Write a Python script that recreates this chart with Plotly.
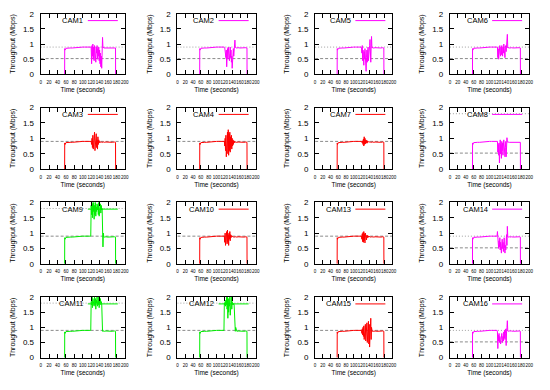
import plotly.graph_objects as go

# ---------------- data ----------------
# shared sampling times (seconds)
T_PRE = [57, 57.2, 58, 60, 63, 66, 70, 75, 80, 85, 90, 95, 100, 105, 110, 115, 119]
T_MID = [120, 121, 122, 123, 124, 125, 126, 127, 128, 129, 130, 131, 132, 133, 134, 135,
         136, 137, 138, 139, 140, 141, 142, 143, 144, 145, 146, 147, 148, 149, 150]
T_POST = [152, 155, 160, 165, 170, 175, 177.8, 178]

# steady throughput before / after the disturbance (Mbps)
PRE = [0, 0.85, 0.80, 0.86, 0.87, 0.86, 0.87, 0.87, 0.88, 0.88, 0.88, 0.89, 0.90, 0.90, 0.90, 0.91, 0.90]
POST = [0.87, 0.88, 0.87, 0.88, 0.87, 0.88, 0.87, 0]

# throughput during 120..150 s per camera (Mbps)
MID = {
    "CAM1": [0.90, 0.35, 0.95, 0.60, 1.00, 0.50, 0.90, 0.45, 0.95, 0.55, 0.85, 0.40, 0.90, 0.70, 0.95, 0.50,
             0.85, 0.60, 0.90, 0.45, 0.80, 0.35, 0.70, 0.25, 0.60, 0.20, 0.85, 1.22, 0.88, 0.90, 0.87],
    "CAM2": [0.90, 0.88, 0.70, 0.85, 0.55, 0.80, 0.25, 0.60, 0.85, 0.50, 0.90, 0.65, 0.85, 0.45, 0.70, 0.90,
             0.55, 0.80, 0.40, 0.60, 0.20, 0.75, 0.50, 0.85, 0.60, 0.90, 0.85, 1.13, 0.90, 0.88, 0.87],
    "CAM5": [0.88, 0.70, 0.95, 0.45, 0.80, 0.55, 0.30, 0.75, 0.50, 0.85, 0.35, 0.60, 0.10, 0.55, 0.80, 0.40,
             0.70, 0.90, 0.45, 0.85, 0.60, 0.95, 1.15, 0.60, 0.40, 0.90, 1.25, 0.88, 0.90, 0.87, 0.88],
    "CAM6": [0.90, 0.55, 0.85, 0.50, 0.90, 0.65, 0.95, 0.70, 0.60, 0.90, 0.65, 0.95, 0.75, 0.60, 0.90, 0.70,
             1.00, 0.65, 0.85, 0.55, 0.90, 0.95, 0.75, 1.00, 0.85, 1.32, 0.88, 0.90, 0.87, 0.88, 0.87],
    "CAM3": [0.90, 0.80, 1.00, 0.70, 1.10, 0.65, 1.00, 0.75, 1.20, 0.60, 1.05, 0.80, 1.15, 0.70, 0.95, 0.65,
             1.05, 0.80, 0.95, 0.85, 0.90, 0.88, 0.87, 0.88, 0.87, 0.88, 0.87, 0.88, 0.87, 0.88, 0.87],
    "CAM4": [0.90, 0.75, 1.00, 0.60, 1.10, 0.40, 0.95, 0.55, 1.20, 0.50, 1.28, 0.45, 1.15, 0.60, 1.20, 0.55,
             1.05, 0.70, 1.10, 0.65, 1.00, 0.75, 0.95, 0.80, 0.92, 0.85, 0.90, 0.87, 0.88, 0.87, 0.88],
    "CAM7": [0.90, 0.88, 0.85, 0.92, 0.80, 0.98, 0.75, 1.05, 0.80, 1.00, 0.82, 0.95, 0.85, 0.93, 0.84, 0.92,
             0.86, 0.90, 0.87, 0.90, 0.88, 0.87, 0.88, 0.87, 0.88, 0.87, 0.88, 0.87, 0.88, 0.87, 0.88],
    "CAM8": [0.90, 0.55, 0.80, 0.45, 0.85, 0.20, 0.70, 0.95, 0.50, 0.80, 0.35, 0.90, 0.60, 0.85, 0.45, 0.75,
             0.95, 0.55, 0.80, 0.40, 0.70, 0.90, 0.40, 0.75, 1.02, 0.88, 0.87, 0.88, 0.87, 0.88, 0.87],
    "CAM9": [1.90, 1.60, 2.00, 1.50, 1.95, 1.70, 2.00, 1.45, 1.90, 1.60, 2.00, 1.55, 1.85, 1.70, 1.95, 1.75,
             1.90, 1.60, 2.00, 1.55, 1.85, 1.70, 1.95, 1.65, 1.90, 1.75, 1.80, 1.10, 0.55, 1.00, 0.87],
    "CAM10": [0.90, 0.70, 1.00, 0.60, 0.95, 0.75, 1.05, 0.65, 1.10, 0.70, 0.95, 0.60, 1.00, 0.80, 1.05, 0.75,
              0.95, 0.85, 0.92, 0.88, 0.90, 0.87, 0.88, 0.87, 0.88, 0.87, 0.88, 0.87, 0.88, 0.87, 0.88],
    "CAM13": [0.90, 0.80, 0.98, 0.72, 1.02, 0.70, 1.05, 0.75, 0.98, 0.68, 1.00, 0.80, 0.95, 0.78, 0.93, 0.85,
              0.92, 0.86, 0.90, 0.87, 0.89, 0.88, 0.87, 0.88, 0.87, 0.88, 0.87, 0.88, 0.87, 0.88, 0.87],
    "CAM14": [1.05, 0.60, 0.85, 0.50, 0.75, 0.55, 0.85, 0.45, 0.70, 0.50, 0.35, 0.65, 0.80, 0.50, 0.70, 0.40,
              0.65, 0.85, 0.50, 0.35, 0.60, 0.45, 0.75, 0.95, 0.60, 1.22, 0.88, 0.87, 0.88, 0.87, 0.88],
    "CAM11": [1.85, 1.75, 2.00, 1.65, 1.95, 1.80, 1.90, 1.70, 2.00, 1.75, 1.95, 1.60, 1.90, 1.80, 2.00, 1.70,
              1.85, 1.75, 2.00, 1.65, 1.90, 1.80, 1.95, 1.75, 1.85, 1.80, 0.90, 0.87, 0.88, 0.87, 0.88],
    "CAM12": [1.80, 1.75, 1.85, 1.70, 1.90, 1.75, 2.00, 1.60, 2.00, 1.30, 1.95, 1.50, 1.80, 1.70, 2.00, 1.40,
              1.95, 1.75, 2.00, 1.60, 1.85, 1.75, 1.80, 1.75, 1.78, 1.75, 1.00, 0.90, 0.87, 1.00, 0.88],
    "CAM15": [0.90, 0.80, 0.95, 0.75, 1.00, 0.70, 1.05, 0.60, 0.95, 0.65, 1.10, 0.55, 1.00, 0.70, 1.15, 0.50,
              1.05, 0.60, 1.20, 0.45, 1.10, 0.35, 1.25, 0.50, 1.30, 0.60, 1.00, 0.90, 0.87, 0.88, 0.87],
    "CAM16": [0.85, 0.30, 0.75, 0.55, 0.80, 0.50, 0.70, 0.60, 0.45, 0.75, 0.55, 0.80, 0.60, 0.50, 0.70, 0.55,
              0.85, 0.65, 0.90, 0.60, 0.80, 0.95, 0.40, 0.85, 1.00, 1.22, 0.88, 0.87, 0.88, 0.87, 0.88],
}

# panel layout (row-major)
GRID = [["CAM1", "CAM2", "CAM5", "CAM6"],
        ["CAM3", "CAM4", "CAM7", "CAM8"],
        ["CAM9", "CAM10", "CAM13", "CAM14"],
        ["CAM11", "CAM12", "CAM15", "CAM16"]]

COLOR_GROUP = {"CAM1": "m", "CAM2": "m", "CAM5": "m", "CAM6": "m", "CAM8": "m", "CAM14": "m", "CAM16": "m",
               "CAM3": "r", "CAM4": "r", "CAM7": "r", "CAM10": "r", "CAM13": "r", "CAM15": "r",
               "CAM9": "g", "CAM11": "g", "CAM12": "g"}

# reference levels (Mbps): dotted and dashed grey lines
DOT_LEVEL = {"CAM1": 0.9, "CAM2": 0.9, "CAM5": 0.9, "CAM6": 0.9, "CAM8": 1.8, "CAM14": 0.9, "CAM16": 0.9,
             "CAM9": 1.8, "CAM11": 1.8, "CAM12": 1.8}
DASH_LEVEL = {"CAM1": 0.52, "CAM2": 0.52, "CAM5": 0.52, "CAM6": 0.52, "CAM8": 0.52, "CAM14": 0.52, "CAM16": 0.52,
              "CAM3": 0.9, "CAM4": 0.9, "CAM7": 0.9, "CAM10": 0.9, "CAM13": 0.9, "CAM15": 0.9,
              "CAM9": 0.9, "CAM11": 0.9, "CAM12": 0.9}

X_TICKS = [0, 20, 40, 60, 80, 100, 120, 140, 160, 180, 200]
Y_TICKS = [0, 0.5, 1, 1.5, 2]
Y_TICK_TEXT = ["0", "0.5", "1", "1.5", "2"]

# ---------------- styling / layout ----------------
COLORS = {"m": "#ff00ff", "r": "#ff0000", "g": "#00ee00"}
W, H = 550, 390
COL_PX = [(40, 125), (178, 257), (317, 395), (453, 533)]
ROW_PX = [(10, 72), (106, 169), (203, 266), (300, 362)]
FONT = "Liberation Sans, Arial, sans-serif"

T = T_PRE + T_MID + T_POST

fig = go.Figure()
layout = dict(width=W, height=H, margin=dict(l=0, r=0, t=0, b=0),
              paper_bgcolor="white", plot_bgcolor="white",
              font=dict(family=FONT, color="black"))
annotations = []

idx = 0
for r, row in enumerate(GRID):
    for c, cam in enumerate(row):
        idx += 1
        sfx = "" if idx == 1 else str(idx)
        xa, ya = "x" + sfx, "y" + sfx
        x0, x1 = COL_PX[c]
        yt, yb = ROW_PX[r]
        mid = MID[cam]
        assert len(mid) == len(T_MID)
        vals = PRE + mid + POST

        if cam in DOT_LEVEL:
            lv = DOT_LEVEL[cam]
            fig.add_trace(go.Scatter(x=[0, 200], y=[lv, lv], mode="lines", xaxis=xa, yaxis=ya,
                                     line=dict(color="#a0a0a0", width=1, dash="1px,2px"),
                                     showlegend=False, hoverinfo="skip"))
        if cam in DASH_LEVEL:
            lv = DASH_LEVEL[cam]
            fig.add_trace(go.Scatter(x=[0, 200], y=[lv, lv], mode="lines", xaxis=xa, yaxis=ya,
                                     line=dict(color="#8a8a8a", width=1, dash="3px,2px"),
                                     showlegend=False, hoverinfo="skip"))

        leg = "legend" + sfx
        fig.add_trace(go.Scatter(x=T, y=vals, mode="lines", xaxis=xa, yaxis=ya, name="",
                                 line=dict(color=COLORS[COLOR_GROUP[cam]], width=1),
                                 legend=leg, showlegend=True))

        axis_common = dict(showline=True, linecolor="black", linewidth=1, mirror="ticks",
                           ticks="inside", tickcolor="black", showgrid=False, zeroline=False)
        layout["xaxis" + sfx] = dict(domain=[x0 / W, x1 / W], anchor=ya, range=[0, 200],
                                     tickvals=X_TICKS, ticklen=4, tickangle=0, tickfont=dict(size=4.5),
                                     ticklabelstandoff=3,
                                     title=dict(text="Time (seconds)", font=dict(size=6.5), standoff=3),
                                     **axis_common)
        layout["yaxis" + sfx] = dict(domain=[1 - yb / H, 1 - yt / H], anchor=xa, range=[0, 2],
                                     tickvals=Y_TICKS, ticktext=Y_TICK_TEXT, ticklen=4,
                                     tickfont=dict(size=8), ticklabelstandoff=4,
                                     title=dict(text="Throughput (Mbps)", font=dict(size=7), standoff=6),
                                     **axis_common)
        layout[leg] = dict(x=(x1 + 3) / W, xanchor="right", y=1 - (yt + 7) / H, yanchor="middle",
                           bgcolor="rgba(0,0,0,0)", borderwidth=0, itemwidth=30,
                           font=dict(size=7))
        annotations.append(dict(text=cam, xref="paper", yref="paper", x=(x1 - 40) / W, xanchor="right",
                                y=1 - (yt + 7) / H, yanchor="middle", showarrow=False,
                                font=dict(size=7.5, family=FONT, color="black")))

layout["annotations"] = annotations
fig.update_layout(**layout)
fig.write_html("out.html", config={"displayModeBar": False},
               post_script="document.body.style.margin='0';")
